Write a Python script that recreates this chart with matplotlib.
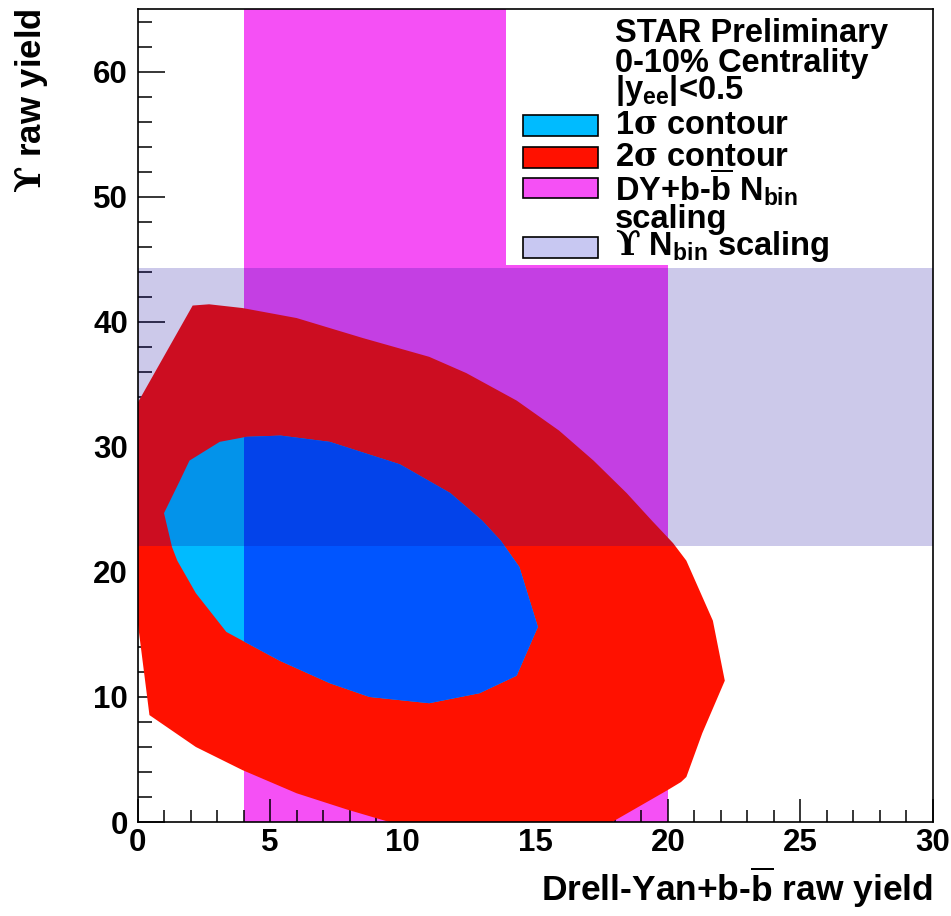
import matplotlib
matplotlib.use('Agg')
import matplotlib.pyplot as plt
from matplotlib.patches import Rectangle

plt.rcParams['font.family'] = ['Liberation Sans', 'DejaVu Sans']
plt.rcParams['font.weight'] = 'bold'
plt.rcParams['mathtext.fontset'] = 'custom'
plt.rcParams['mathtext.rm'] = 'Liberation Sans:bold'
plt.rcParams['mathtext.bf'] = 'Liberation Sans:bold'
plt.rcParams['mathtext.it'] = 'Liberation Sans:bold'
plt.rcParams['mathtext.sf'] = 'DejaVu Serif'   # greek symbols like ROOT's Symbol font

# 2 sigma contour (red)
red_x = [0, 2.08, 2.7, 3.96, 6.0, 8.5, 11.0, 12.4, 14.3, 15.9, 17.2, 18.45, 19.4,
         20.2, 20.7, 21.7, 22.15, 21.3, 20.7, 20.5, 20.0, 17.9, 9.5, 7.9, 6.0,
         3.96, 2.2, 0.45, 0]
red_y = [33.5, 41.3, 41.4, 41.1, 40.3, 38.7, 37.2, 35.9, 33.7, 31.3, 28.9, 26.3, 24.1,
         22.3, 20.9, 16.1, 11.3, 7.1, 3.6, 3.2, 2.56, 0, 0, 1.0, 2.3,
         4.15, 6.0, 8.55, 16.1]

# 1 sigma contour (cyan)
cyan_x = [4.1, 5.4, 7.25, 9.9, 11.8, 13.0, 13.7, 14.4, 15.1, 14.3, 12.9, 11.0, 8.75,
          7.25, 5.36, 3.96, 3.35, 2.2, 1.5, 1.3, 1.0, 1.6, 1.96, 3.1]
cyan_y = [30.8, 30.9, 30.4, 28.6, 26.3, 24.1, 22.5, 20.4, 15.6, 11.7, 10.3, 9.5, 10.0,
          11.1, 12.9, 14.5, 15.2, 18.3, 20.9, 22.0, 24.7, 27.3, 28.9, 30.4]

# scaling bands
dy_band = (4.0, 20.0)        # DY+b-bbar Nbin scaling, x range
ups_band = (22.1, 44.3)      # Upsilon Nbin scaling, y range

header = ['STAR Preliminary', '0-10% Centrality', r'|y$_{\mathrm{ee}}$|<0.5']
entries = [r'1$\mathsf{σ}$ contour', r'2$\mathsf{σ}$ contour',
           r'DY+b-$\overline{\mathrm{b}}$ N$_{\mathrm{bin}}$' + '\nscaling',
           r'$\mathsf{ϒ}$ N$_{\mathrm{bin}}$ scaling']

c_red = '#ff1100'
c_cyan = '#00bbff'
c_blue = '#0055ff'
c_mag = '#f550f5'
c_ups = '#1000a0'

fig = plt.figure(figsize=(9.51, 9.16), dpi=100)
ax = fig.add_axes([0.1446, 0.1026, 0.8364, 0.8874])

ax.axvspan(*dy_band, color=c_mag, lw=0, zorder=1)
ax.fill(red_x, red_y, color=c_red, lw=0, zorder=2)
ax.fill(cyan_x, cyan_y, color=c_cyan, lw=0, zorder=3)
blue = ax.fill(cyan_x, cyan_y, color=c_blue, lw=0, zorder=3.5)[0]
clip = Rectangle((dy_band[0], 0), dy_band[1] - dy_band[0], 65, transform=ax.transData)
blue.set_clip_path(clip)
ax.axhspan(*ups_band, color=c_ups, alpha=0.21, lw=0, zorder=4)

ax.set_xlim(0, 30)
ax.set_ylim(0, 65)
ax.set_xticks(range(0, 31, 5))
ax.set_xticks(range(0, 31, 1), minor=True)
ax.set_yticks(range(0, 61, 10))
ax.set_yticks(range(0, 65, 2), minor=True)
ax.tick_params(axis='both', which='both', direction='in', width=1.1,
               top=False, right=False, labelsize=22.5, color='black')
ax.tick_params(axis='x', which='major', length=16.5, pad=4)
ax.tick_params(axis='x', which='minor', length=8.3)
ax.tick_params(axis='y', which='major', length=19.5, pad=7)
ax.tick_params(axis='y', which='minor', length=10)
for lab in ax.get_xticklabels() + ax.get_yticklabels():
    lab.set_fontweight('bold')
for sp in ax.spines.values():
    sp.set_linewidth(1.2)
    sp.set_zorder(10)

ax.set_xlabel(r'Drell-Yan+b-$\overline{\mathrm{b}}$ raw yield', fontsize=25.5,
              fontweight='bold', loc='right')
ax.xaxis.set_label_coords(1.0, -0.052)
fig.text(31 / 951, 1 - 9 / 916, r'$\mathsf{ϒ}$ raw yield', rotation=90,
         ha='center', va='top', fontsize=25, fontweight='bold')

# legend box drawn by hand, like the ROOT TLegend
ax.add_patch(Rectangle((0.463, 0.685), 0.537, 0.315, transform=ax.transAxes,
                       facecolor='white', edgecolor='none', zorder=5))
tx = 0.6003
fs = 23.5
hy = [0.970, 0.933, 0.900]
for t, y in zip(header, hy):
    ax.text(tx, y, t, transform=ax.transAxes, fontsize=fs, fontweight='bold',
            va='center', ha='left', zorder=6)

sw_col = [c_cyan, c_red, c_mag, '#c8c8f2']
sw_y = [0.857, 0.818, 0.780, 0.707]
txt_y = [0.857, 0.818, 0.764, 0.709]
for t, c, sy, ty in zip(entries, sw_col, sw_y, txt_y):
    ax.add_patch(Rectangle((0.4846, sy - 0.0129), 0.0943, 0.0258, transform=ax.transAxes,
                           facecolor=c, edgecolor='black', lw=1.2, zorder=6))
    ax.text(tx, ty, t, transform=ax.transAxes, fontsize=fs, fontweight='bold',
            va='center', ha='left', zorder=6, linespacing=0.85)

fig.savefig('out.png', dpi=100)
